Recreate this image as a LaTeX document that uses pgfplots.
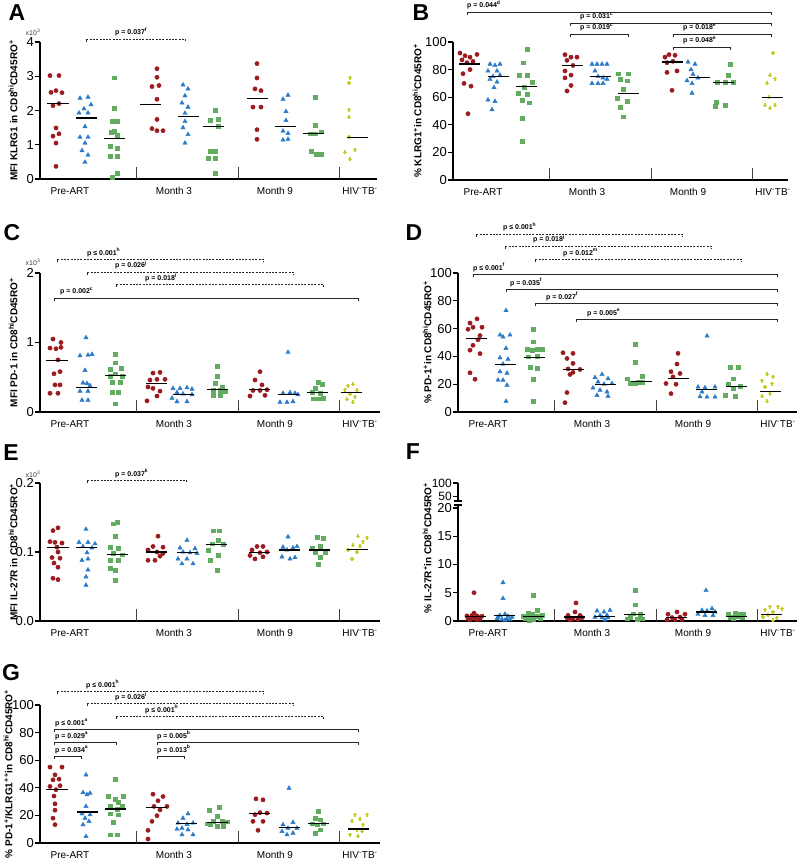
\documentclass[border=0pt]{standalone}
\usepackage{fontspec}
\setmainfont{Liberation Sans}
\usepackage{pgfplots}
\pgfplotsset{compat=1.18}

\definecolor{cRed}{RGB}{155,27,32}
\definecolor{cBlue}{RGB}{42,122,200}
\definecolor{cGreen}{RGB}{98,172,98}
\definecolor{cYel}{RGB}{200,204,44}

\pgfplotsset{
  panel/.style={
    scale only axis, clip=false, anchor=south west,
    axis lines=left, axis line style={-, line width=1.4pt},
    xmin=0, ymin=0,
    xtick={30,134,235,320},
    xticklabels={Pre-ART,Month 3,Month 9,HIV\textsuperscript{-}TB\textsuperscript{-}},
    xtick style={draw=none},
    x tick label style={font=\fontsize{10}{10}\selectfont},
    y tick label style={font=\fontsize{13}{13}\selectfont, inner sep=1pt},
    ytick style={line width=1.2pt, black},
    tick align=outside, major tick length=5pt,
    /pgf/number format/assume math mode=true,
    scaled y ticks=false,
    ylabel style={font=\bfseries\fontsize{10}{12}\selectfont, anchor=center},
  },
  rd/.style={only marks, mark=*, mark size=2.15pt, color=cRed},
  bl/.style={only marks, mark=triangle*, mark size=2.5pt, color=cBlue},
  gr/.style={only marks, mark=square*, mark size=1.9pt, color=cGreen},
  ye/.style={only marks, mark=+, mark size=2pt, color=cYel, mark options={line width=1.2pt}},
  md/.style={only marks, mark=-, mark size=10.5pt, color=black, mark options={line width=1.2pt}},
}

% separators between the time points
\newcommand{\seps}{%
  \draw[line width=0.9pt, black!75] (axis cs:96,0) -- ++(0pt,12pt);
  \draw[line width=0.9pt, black!75] (axis cs:198,0) -- ++(0pt,12pt);
  \draw[line width=0.9pt, black!75] (axis cs:299,0) -- ++(0pt,12pt);}

% p-value bracket: x1 x2 y style textx text (absolute pt, y downwards)
\newcommand{\brk}[6]{%
  \draw[line width=0.8pt, black!85, #4] (#1pt,-#3pt) ++(0pt,-3pt) -- ++(0pt,3pt) -- (#2pt,-#3pt) -- ++(0pt,-3pt);
  \node[anchor=base west, inner sep=0pt, yshift=4pt, font=\bfseries\fontsize{7}{7}\selectfont] at (#5pt,-#3pt) {#6};}

\tikzset{dsh/.style={dash pattern=on 2pt off 1.3pt}, sld/.style={}}

\begin{document}
\begin{tikzpicture}
\useasboundingbox (0pt,0pt) rectangle (800pt,-866pt);

% ---------------- A ----------------
\begin{axis}[panel, at={(40pt,-179pt)}, width=337pt, height=137pt, xmax=337, ymax=4,
  ytick={0,1,2,3,4},
  ylabel={MFI KLRG1 in CD8\textsuperscript{hi}CD45RO\textsuperscript{+}},
  ylabel style={at={(axis description cs:-0.080,0.5)}}]
\addplot[rd] coordinates {(10,3.02)(19,3.02)(11,2.53)(16,2.58)(22,2.52)(19,2.2)(13,2.14)(16,1.49)(19,1.32)(13,1.25)(16,1.05)(16,0.37)
  (117,3.22)(117,2.97)(112,2.70)(119,2.73)(117,2.33)(117,1.74)(112,1.47)(117,1.41)(123,1.41)
  (217,3.37)(217,2.95)(215,2.63)(221,2.58)(213,2.1)(221,2.1)(217,1.44)(217,1.16)};
\addplot[bl] coordinates {(40,2.36)(48,2.39)(51,2.17)(44,2.05)(39,1.93)(48,1.93)(45,1.53)(40,1.22)(48,1.22)(45,1.05)(42,0.83)(48,0.7)(45,0.49)
  (143,2.75)(148,2.63)(145,2.43)(142,2.22)(148,2.1)(145,1.92)(145,1.68)(143,1.5)(148,1.3)(145,1.05)
  (248,2.45)(243,2.33)(246,1.97)(246,1.71)(243,1.4)(248,1.33)(243,1.14)(248,1.16)};
\addplot[gr] coordinates {(74,2.96)(74,2.06)(72,1.68)(77,1.68)(74,1.4)(71,1.36)(77,1.29)(70,0.95)(77,0.9)(70,0.67)(77,0.67)(77,0.17)(72,0.05)
  (175,2.0)(170,1.72)(178,1.74)(178,1.55)(170,0.8)(175,0.8)(168,0.6)(175,0.6)(175,0.18)
  (275,2.39)(275,1.58)(270,1.32)(275,1.32)(281,1.38)(271,0.8)(276,0.73)(281,0.73)};
\addplot[ye] coordinates {(310,2.96)(309,2.8)(309,2.02)(309,1.8)(309,1.23)(305,0.78)(315,0.85)(310,0.57)};
\addplot[md] coordinates {(18,2.2)(46,1.78)(74,1.19)(110,2.18)(148,1.82)(173,1.54)(217,2.34)(245,1.53)(273,1.32)(317,1.22)};
\seps
\end{axis}

% ---------------- B ----------------
\begin{axis}[panel, at={(453pt,-180pt)}, width=335pt, height=138pt, xmax=335, ymax=100,
  ytick={0,20,40,60,80,100},
  ylabel={\% KLRG1\textsuperscript{+}in CD8\textsuperscript{hi}CD45RO\textsuperscript{+}},
  ylabel style={at={(axis description cs:-0.107,0.5)}}]
\addplot[rd] coordinates {(7,92)(12,90)(17,89)(24,91)(9,87)(14,85)(20,86)(17,80)(10,77)(11,70)(18,68)(15,48)
  (112,90.8)(118,89)(124,89)(114,86.7)(120,83)(112,79)(118,76)(112,74)(118,68.5)(114,64.5)
  (216,90.8)(222,90.4)(212,89)(220,86)(214,85)(214,78)(224,79)(219,65)};
\addplot[bl] coordinates {(37,84)(42,83)(47,84)(35,79)(44,79)(47,76)(40,75)(44,71)(41,67)(35,58)(42,57)(39,51)(37,73)
  (139,84)(144,84)(149,84)(154,84)(142,79)(145,75)(150,74)(154,73)(139,70)(145,70)(150,70)
  (235,85.5)(242,84)(238,80)(240,76.6)(245,74)(234,72)(239,70)(239,63)};
\addplot[gr] coordinates {(74,94.5)(70,85)(66,76)(74,76)(79,71)(71,67)(65,63)(74,62)(69,58)(76,56)(69,44.5)(69,28)
  (165,77)(175,77)(167,73)(174,72)(170,66)(164,59.5)(174,57)(167,53)(170,45.8)
  (277,84)(275,76)(264,71)(272,71)(280,71)(263,56.6)(272,54)(262,53.5)};
\addplot[ye] coordinates {(320,92)(317,76)(322,73.5)(314,70)(316,60)(312,54)(317,52)(322,54)};
\addplot[md] coordinates {(16,84)(45,75)(73,67.5)(119,83)(147,75)(175,62.7)(219,85.5)(246,74)(270,70.4)(319,59.8)};
\seps
\end{axis}

% ---------------- C ----------------
\begin{axis}[panel, at={(40pt,-412pt)}, width=340pt, height=139pt, xmax=340, ymax=2,
  ytick={0,1,2},
  ylabel={MFI PD-1 in CD8\textsuperscript{hi}CD45RO\textsuperscript{+}},
  ylabel style={at={(axis description cs:-0.079,0.5)}}]
\addplot[rd] coordinates {(13,1.05)(21,1.0)(10,0.92)(16,0.91)(21,0.93)(18,0.75)(14,0.55)(20,0.58)(15,0.39)(20,0.39)(10,0.27)(18,0.27)
  (113,0.56)(120,0.57)(110,0.46)(117,0.47)(125,0.47)(108,0.36)(113,0.34)(120,0.3)(117,0.23)(107,0.16)
  (220,0.58)(215,0.46)(222,0.39)(213,0.31)(220,0.31)(227,0.32)(210,0.23)(225,0.24)};
\addplot[bl] coordinates {(46,1.07)(40,0.81)(48,0.82)(52,0.83)(45,0.6)(43,0.42)(47,0.41)(50,0.38)(40,0.3)(48,0.3)(42,0.17)(48,0.17)
  (133,0.34)(140,0.34)(147,0.35)(152,0.33)(137,0.28)(143,0.26)(152,0.25)(132,0.2)(137,0.15)(147,0.15)
  (248,0.86)(243,0.27)(250,0.28)(255,0.27)(240,0.14)(247,0.14)(253,0.15)(258,0.25)};
\addplot[gr] coordinates {(75,0.83)(75,0.71)(70,0.62)(81,0.63)(75,0.55)(82,0.52)(70,0.52)(72,0.43)(80,0.43)(72,0.28)(78,0.29)(75,0.12)
  (177,0.66)(177,0.51)(175,0.41)(182,0.36)(173,0.31)(180,0.31)(173,0.24)(180,0.24)(185,0.3)
  (278,0.43)(282,0.4)(275,0.34)(272,0.28)(280,0.27)(273,0.19)(278,0.19)(283,0.2)};
\addplot[ye] coordinates {(308,0.38)(313,0.4)(305,0.32)(317,0.31)(310,0.26)(307,0.18)(313,0.14)(315,0.22)};
\addplot[md] coordinates {(17,0.74)(46,0.35)(75,0.53)(116,0.41)(143,0.25)(177,0.32)(219,0.32)(248,0.25)(277,0.28)(311,0.28)};
\seps
\end{axis}

% ---------------- D ----------------
\begin{axis}[panel, at={(458pt,-412pt)}, width=339pt, height=139pt, xmax=339, ymax=100,
  ytick={0,20,40,60,80,100},
  ylabel={\% PD-1\textsuperscript{+}in CD8\textsuperscript{hi}CD45RO\textsuperscript{+}},
  ylabel style={at={(axis description cs:-0.091,0.5)}}]
\addplot[rd] coordinates {(19,67)(12,64)(15,61)(24,61)(10,59.5)(22,55)(20,52)(15,48)(12,44.5)(22,42)(12,28.2)(17,23.6)
  (105,42.6)(115,42.2)(109,38.5)(115,35)(110,31)(122,30.6)(115,28.5)(112,27)(109,14)(107,6.7)
  (220,42.2)(219,34.5)(213,29)(222,27.7)(215,25.3)(208,20.5)(218,20)(213,13.2)};
\addplot[bl] coordinates {(48,73)(42,55.4)(52,55.4)(45,54)(48,45.8)(42,39)(50,38)(45,34.5)(42,29)(49,28)(40,23)(45,22.9)(49,19.3)(48,7.7)
  (144,27)(137,24.8)(150,24)(140,21.7)(146,20)(154,20.5)(135,17.3)(142,15.7)(149,14.5)(139,12)(150,11.3)
  (249,54.7)(240,18)(247,17.5)(257,18)(244,14.5)(249,10.8)(242,11)(257,10.8)};
\addplot[gr] coordinates {(75,59.8)(75,50.6)(69,45)(74,44.6)(79,45)(84,45)(70,39.8)(79,40)(72,32.5)(79,31.5)(75,23.4)(75,7.7)
  (177,49)(177,36)(184,25.5)(169,24)(172,21)(180,21.5)(177,20.5)(184,21.5)
  (272,32.5)(280,32.5)(275,24)(270,20)(275,17)(282,18.5)(267,12)(277,11.3)};
\addplot[ye] coordinates {(309,27.2)(315,25.3)(304,22.4)(314,20.5)(307,18)(312,13.2)(304,11.3)(309,7.7)};
\addplot[md] coordinates {(18,53)(47,34.2)(76,39.3)(115,30.6)(147,19.8)(183,22)(220,24.1)(248,16.1)(278,18.6)(312,14.9)};
\seps
\end{axis}

% ---------------- E ----------------
\begin{axis}[panel, at={(40pt,-621pt)}, width=340pt, height=138pt, xmax=340, ymax=0.2,
  ytick={0,0.1,0.2},
  yticklabel style={/pgf/number format/.cd, fixed, fixed zerofill, precision=1},
  ylabel={MFI IL-27R in CD8\textsuperscript{hi}CD45RO\textsuperscript{+}},
  ylabel style={at={(axis description cs:-0.079,0.5)}}]
\addplot[rd] coordinates {(18,0.135)(13,0.131)(10,0.115)(15,0.114)(22,0.113)(17,0.107)(18,0.1)(12,0.092)(20,0.091)(14,0.084)(18,0.078)(13,0.062)(18,0.06)
  (118,0.123)(113,0.108)(123,0.107)(108,0.103)(117,0.1)(123,0.098)(108,0.088)(115,0.088)(120,0.094)
  (217,0.108)(223,0.108)(212,0.103)(220,0.099)(215,0.09)(223,0.093)(227,0.1)(210,0.095)};
\addplot[bl] coordinates {(46,0.133)(39,0.114)(48,0.114)(55,0.112)(43,0.108)(52,0.106)(47,0.099)(48,0.09)(42,0.088)(48,0.074)(46,0.064)(46,0.052)
  (147,0.117)(140,0.106)(155,0.105)(143,0.1)(150,0.099)(157,0.098)(138,0.09)(147,0.09)(142,0.083)(153,0.083)
  (248,0.122)(243,0.107)(253,0.106)(257,0.108)(242,0.093)(250,0.09)(255,0.092)(247,0.103)};
\addplot[gr] coordinates {(77,0.143)(73,0.141)(75,0.123)(70,0.107)(78,0.106)(73,0.098)(82,0.096)(70,0.088)(78,0.088)(75,0.074)(70,0.077)(75,0.059)
  (173,0.131)(179,0.131)(178,0.117)(172,0.112)(183,0.111)(168,0.103)(178,0.095)(170,0.088)(177,0.074)
  (277,0.121)(283,0.12)(280,0.108)(272,0.106)(275,0.1)(285,0.1)(280,0.093)(278,0.082)};
\addplot[ye] coordinates {(318,0.123)(327,0.121)(323,0.115)(313,0.11)(320,0.108)(308,0.103)(317,0.1)(312,0.09)};
\addplot[md] coordinates {(18,0.107)(46,0.107)(77,0.096)(116,0.1)(147,0.099)(176,0.111)(219,0.099)(249,0.103)(279,0.103)(317,0.104)};
\seps
\end{axis}

% ---------------- F (broken axis) ----------------
\begin{axis}[panel, at={(458pt,-621pt)}, width=339pt, height=113pt, xmax=339, ymax=20,
  ytick={0,5,10,15,20},
  ylabel={\% IL-27R\textsuperscript{+}in CD8\textsuperscript{hi}CD45RO\textsuperscript{+}},
  ylabel style={at={(axis description cs:-0.091,0.646)}}]
\addplot[rd] coordinates {(16,5.0)(16,1.4)(9,0.9)(14,1.0)(19,0.9)(24,0.85)(10,0.4)(17,0.4)(22,0.4)(12,0.2)(19,0.25)(14,0.6)(21,0.6)
  (118,3.2)(117,1.6)(110,1.0)(122,1.0)(109,0.6)(115,0.4)(124,0.6)(112,0.2)(120,0.3)
  (219,1.6)(210,1.2)(227,1.2)(214,0.6)(222,0.7)(209,0.2)(217,0.2)(224,0.3)};
\addplot[bl] coordinates {(45,6.8)(45,4.0)(47,1.2)(42,1.0)(50,0.85)(54,0.7)(39,0.4)(44,0.3)(49,0.35)(40,0.7)(47,0.15)(52,0.25)
  (139,1.8)(146,1.6)(152,1.9)(142,1.0)(149,1.0)(137,0.7)(144,0.6)(150,0.6)(147,0.2)
  (248,5.4)(254,2.2)(244,1.9)(249,1.8)(257,1.6)(240,1.2)(247,1.0)(255,1.0)};
\addplot[gr] coordinates {(75,4.6)(79,1.9)(70,1.4)(74,1.2)(65,0.8)(72,0.7)(79,0.8)(84,1.0)(67,0.4)(75,0.25)(82,0.4)(71,0.2)
  (177,5.4)(177,2.9)(175,1.3)(182,1.2)(172,0.7)(169,0.4)(179,0.25)(184,0.4)
  (270,1.2)(277,1.4)(282,1.2)(285,1.3)(272,0.7)(279,0.8)(284,0.6)(275,0.5)};
\addplot[ye] coordinates {(312,2.5)(320,2.5)(307,2.0)(324,2.2)(315,1.6)(310,1.0)(305,0.7)(319,0.6)(315,0.1)};
\addplot[md] coordinates {(17,0.75)(46,0.95)(75,0.8)(116,0.7)(146,0.8)(176,1.2)(218,0.6)(248,1.6)(278,0.8)(313,1.2)};
\seps
\end{axis}
\begin{axis}[scale only axis, anchor=south west, at={(458pt,-501pt)}, width=339pt, height=18pt,
  xmin=0, xmax=339, ymin=35, ymax=100, axis x line=none, axis y line=left,
  axis line style={-, line width=1.4pt}, ytick={50,100},
  y tick label style={font=\fontsize{12}{12}\selectfont, inner sep=1pt},
  ytick style={line width=1.2pt, black}, tick align=outside, major tick length=5pt,
  /pgf/number format/assume math mode=true]
\addplot[draw=none] coordinates {(0,50)};
\end{axis}
\draw[line width=1.2pt] (454pt,-501pt) -- (462pt,-501pt);
\draw[line width=1.2pt] (454pt,-505pt) -- (462pt,-505pt);
\draw[line width=1.4pt] (458pt,-505pt) -- (458pt,-509pt);

% ---------------- G ----------------
\begin{axis}[panel, at={(40pt,-843pt)}, width=340pt, height=138pt, xmax=340, ymax=100,
  ytick={0,20,40,60,80,100},
  ylabel={\% PD-1\textsuperscript{+}/KLRG1\textsuperscript{+}\textsuperscript{+}in CD8\textsuperscript{hi}CD45RO\textsuperscript{+}},
  ylabel style={at={(axis description cs:-0.094,0.5)}}]
\addplot[rd] coordinates {(10,55)(22,55)(15,49.4)(13,45.8)(19,46.3)(10,41)(20,41.5)(16,38.6)(14,34)(15,28.4)(15,23.8)(13,18)(15,13.3)
  (113,35.4)(123,33.7)(118,30.6)(114,26.5)(127,26.5)(120,24)(117,19.8)(112,15.7)(108,9.2)(108,2.9)
  (216,32)(223,31.3)(215,20.5)(227,21.7)(220,22)(213,15.7)(223,15.7)(218,9.2)};
\addplot[bl] coordinates {(46,49.4)(43,36.6)(50,36.1)(47,35)(46,26.5)(42,21.2)(50,20.5)(45,18)(49,15.7)(43,13.3)(46,4.8)
  (148,21.2)(143,18)(138,14.5)(153,14.5)(147,13.5)(142,10.8)(148,9.6)(137,10)(142,6)(153,6)
  (249,39.8)(253,15)(243,13.3)(248,10.8)(257,10.8)(242,8.4)(253,7.2)(247,6)};
\addplot[gr] coordinates {(75,46.5)(68,34.2)(75,31.8)(83,33.7)(78,29.5)(70,26.5)(82,26.5)(77,24.6)(70,21.2)(78,20.5)(73,15.2)(70,6)(77,6)
  (179,25.8)(169,23.6)(177,19.3)(173,15.7)(182,15.7)(170,13.3)(187,15.5)(177,12)(183,12)(167,14)
  (278,22.9)(275,18)(280,16.9)(272,14)(283,14)(277,13.3)(275,7.2)(280,9.6)};
\addplot[ye] coordinates {(315,20.5)(327,20.5)(320,17.3)(312,15.7)(323,13.3)(317,9.6)(322,8.4)(310,6)(318,4.8)};
\addplot[md] coordinates {(17,38.6)(47,22.4)(75,24.6)(116,26)(146,14)(177,15)(219,21.2)(249,11.3)(278,14)(318,10.1)};
\seps
\end{axis}

% ---------------- panel letters and scale notes ----------------
\begin{scope}[font=\bfseries\fontsize{23}{23}\selectfont]
\node at (17pt,-13pt) {A};
\node at (421pt,-13pt) {B};
\node at (12pt,-233pt) {C};
\node at (414pt,-233pt) {D};
\node at (11pt,-453pt) {E};
\node at (413pt,-452pt) {F};
\node at (11pt,-673pt) {G};
\end{scope}
\begin{scope}[font=\fontsize{7}{7}\selectfont, text=black!75]
\node at (33pt,-32pt) {x10\textsuperscript{3}};
\node at (33pt,-262pt) {x10\textsuperscript{3}};
\node at (33pt,-474pt) {x10\textsuperscript{3}};
\end{scope}

% ---------------- p-value brackets ----------------
\brk{86}{185}{39}{dsh}{115}{p = 0.037\textsuperscript{f}}
\brk{467}{771}{12}{sld}{467}{p = 0.044\textsuperscript{d}}
\brk{570}{771}{23}{sld}{580}{p = 0.031\textsuperscript{c}}
\brk{570}{628}{34}{sld}{580}{p = 0.019\textsuperscript{c}}
\brk{673}{771}{34}{sld}{683}{p = 0.018\textsuperscript{e}}
\brk{673}{730}{47}{sld}{683}{p = 0.048\textsuperscript{e}}
\brk{57}{263}{259}{dsh}{87}{p ≤ 0.001\textsuperscript{h}}
\brk{87}{293}{272}{dsh}{115}{p = 0.026\textsuperscript{j}}
\brk{116}{323}{284}{dsh}{145}{p = 0.018\textsuperscript{j}}
\brk{54}{358}{298}{sld}{60}{p = 0.002\textsuperscript{c}}
\brk{476}{682}{234}{dsh}{503}{p ≤ 0.001\textsuperscript{h}}
\brk{505}{711}{246}{dsh}{533}{p = 0.018\textsuperscript{j}}
\brk{535}{741}{259}{dsh}{563}{p = 0.012\textsuperscript{m}}
\brk{473}{777}{274}{sld}{473}{p ≤ 0.001\textsuperscript{f}}
\brk{506}{777}{289}{sld}{510}{p = 0.035\textsuperscript{f}}
\brk{535}{777}{303}{sld}{546}{p = 0.027\textsuperscript{f}}
\brk{576}{777}{319}{sld}{587}{p = 0.005\textsuperscript{e}}
\brk{87}{186}{480}{dsh}{115}{p = 0.037\textsuperscript{k}}
\brk{57}{263}{691}{dsh}{86}{p ≤ 0.001\textsuperscript{h}}
\brk{87}{293}{703}{dsh}{115}{p = 0.026\textsuperscript{j}}
\brk{116}{323}{716}{dsh}{145}{p ≤ 0.001\textsuperscript{h}}
\brk{54}{358}{729}{sld}{55}{p ≤ 0.001\textsuperscript{a}}
\brk{157}{358}{742}{sld}{157}{p = 0.005\textsuperscript{b}}
\brk{54}{116}{742}{sld}{55}{p = 0.029\textsuperscript{a}}
\brk{54}{81}{756}{sld}{55}{p = 0.034\textsuperscript{a}}
\brk{157}{184}{756}{sld}{157}{p = 0.013\textsuperscript{b}}
\end{tikzpicture}
\end{document}
